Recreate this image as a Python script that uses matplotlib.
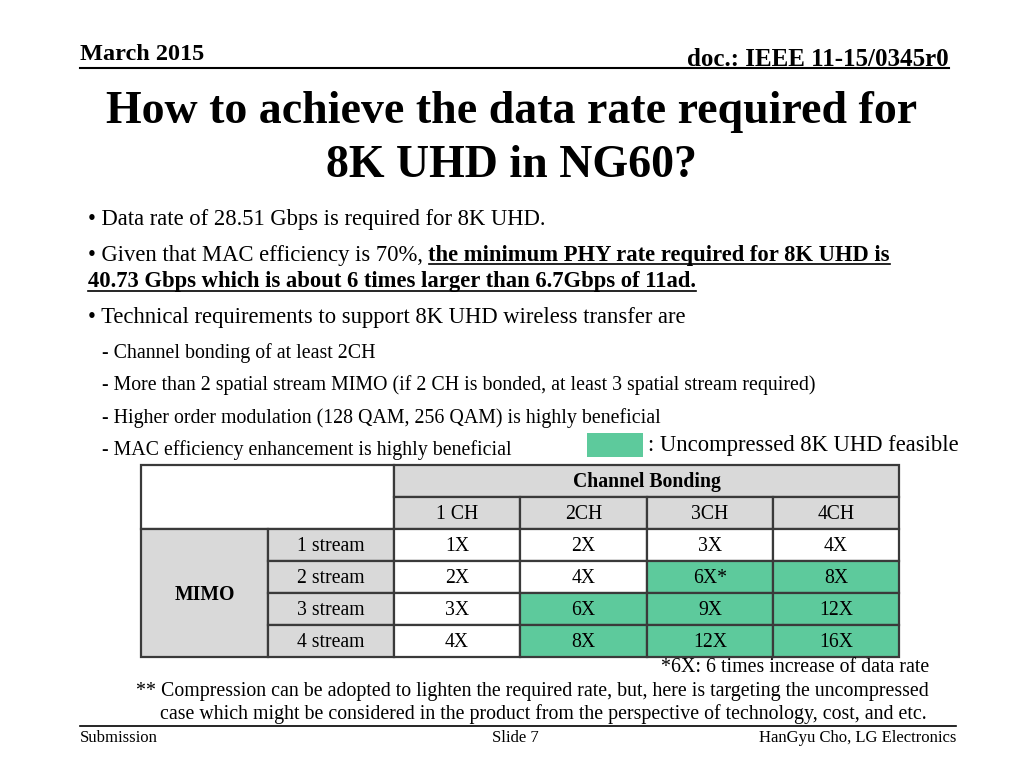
import matplotlib
matplotlib.use('Agg')
import matplotlib.pyplot as plt
from matplotlib.patches import Rectangle

# Slide texts
header_left = 'March 2015'
header_right = 'doc.: IEEE 11-15/0345r0'
title_lines = ['How to achieve the data rate required for', '8K UHD in NG60?']
bullet1 = '• Data rate of 28.51 Gbps is required for 8K UHD.'
bullet2_plain = '• Given that MAC efficiency is 70%, '
bullet2_bold = 'the minimum PHY rate required for 8K UHD is'
bullet2_bold2 = '40.73 Gbps which is about 6 times larger than 6.7Gbps of 11ad.'
bullet3 = '• Technical requirements to support 8K UHD wireless transfer are'
sub_items = ['- Channel bonding of at least 2CH',
             '- More than 2 spatial stream MIMO (if 2 CH is bonded, at least 3 spatial stream required)',
             '- Higher order modulation (128 QAM, 256 QAM) is highly beneficial',
             '- MAC efficiency enhancement is highly beneficial']
legend_text = ': Uncompressed 8K UHD feasible'

# Table data
channels = ['1 CH', '2CH', '3CH', '4CH']
streams = ['1 stream', '2 stream', '3 stream', '4 stream']
rates = [[1, 2, 3, 4],
         [2, 4, 6, 8],
         [3, 6, 9, 12],
         [4, 8, 12, 16]]
rate_labels = [['1X', '2X', '3X', '4X'],
               ['2X', '4X', '6X*', '8X'],
               ['3X', '6X', '9X', '12X'],
               ['4X', '8X', '12X', '16X']]
feasible_min = 6

notes = ['*6X: 6 times increase of data rate',
         '** Compression can be adopted to lighten the required rate, but, here is targeting the uncompressed',
         'case which might be considered in the product from the perspective of technology, cost, and etc.']
footer = ['Submission', 'Slide 7', 'HanGyu Cho, LG Electronics']

GREEN = '#5dca9c'
GRAY = '#d9d9d9'
EDGE = '#3a3a3a'

plt.rcParams['font.family'] = ['Liberation Serif', 'DejaVu Serif']

fig = plt.figure(figsize=(10.24, 7.68), dpi=100)
ax = fig.add_axes([0, 0, 1, 1])
ax.set_xlim(0, 1024)
ax.set_ylim(768, 0)
ax.axis('off')

# header
ax.text(80, 54, header_left, fontsize=17.5, fontweight='bold', va='center')
ax.text(949, 59, header_right, fontsize=18, fontweight='bold', va='center', ha='right')
ax.plot([80, 949], [68, 68], color='black', lw=1.5)

# title
ax.text(512, 112, title_lines[0], fontsize=33, fontweight='bold', ha='center', va='center')
ax.text(512, 166, title_lines[1], fontsize=33, fontweight='bold', ha='center', va='center')

fig.canvas.draw()
r = fig.canvas.get_renderer()
inv = ax.transData.inverted()


def underline(t):
    bb = t.get_window_extent(r)
    (x0, y0), (x1, _) = inv.transform([[bb.x0, bb.y0], [bb.x1, bb.y1]])
    ax.plot([x0, x1], [y0 - 2, y0 - 2], color='black', lw=1.2)


bsize = 16.3
ax.text(88, 219, bullet1, fontsize=bsize, va='center')
t = ax.text(88, 255, bullet2_plain, fontsize=bsize, va='center')
bb = t.get_window_extent(r)
xend = inv.transform([[bb.x1, bb.y0]])[0][0]
tb = ax.text(xend, 255, bullet2_bold, fontsize=bsize, va='center', fontweight='bold')
underline(tb)
tb2 = ax.text(88, 282, bullet2_bold2, fontsize=bsize, va='center', fontweight='bold')
underline(tb2)
ax.text(88, 318, bullet3, fontsize=bsize, va='center')
for i, s in enumerate(sub_items):
    ax.text(102, 353 + i * 32.3, s, fontsize=14.3, va='center')

# legend patch
ax.add_patch(Rectangle((587, 433), 56, 24, facecolor=GREEN, edgecolor='none'))
ax.text(648, 445, legend_text, fontsize=16.3, va='center')

# table
col_x = [141, 268, 394, 520, 647, 773, 899]
row_y = [465, 497, 529, 561, 593, 625, 657]
tsize = 14.2


def cell(x0, x1, y0, y1, fc, text='', bold=False):
    ax.add_patch(Rectangle((x0, y0), x1 - x0, y1 - y0, facecolor=fc, edgecolor=EDGE, lw=1.6))
    if text:
        ax.text((x0 + x1) / 2, (y0 + y1) / 2 + 1.5, text, fontsize=tsize, ha='center', va='center',
                fontweight='bold' if bold else 'normal')


cell(col_x[0], col_x[2], row_y[0], row_y[2], 'white')
cell(col_x[2], col_x[6], row_y[0], row_y[1], GRAY, 'Channel Bonding', bold=True)
for j, c in enumerate(channels):
    cell(col_x[2 + j], col_x[3 + j], row_y[1], row_y[2], GRAY, c)
cell(col_x[0], col_x[1], row_y[2], row_y[6], GRAY, 'MIMO', bold=True)
for i, s in enumerate(streams):
    cell(col_x[1], col_x[2], row_y[2 + i], row_y[3 + i], GRAY, s)
    for j in range(len(channels)):
        fc = GREEN if rates[i][j] >= feasible_min else 'white'
        cell(col_x[2 + j], col_x[3 + j], row_y[2 + i], row_y[3 + i], fc, rate_labels[i][j])

# notes
ax.text(929, 668, notes[0], fontsize=14.3, ha='right', va='center')
ax.text(136, 691.5, notes[1], fontsize=14.3, va='center')
ax.text(160, 714.5, notes[2], fontsize=14.3, va='center')

# footer
ax.plot([80, 956], [726, 726], color='black', lw=1.2)
ax.text(80, 738, footer[0], fontsize=12, va='center')
ax.text(515, 738, footer[1], fontsize=12, va='center', ha='center')
ax.text(956, 738, footer[2], fontsize=12, va='center', ha='right')

fig.savefig('out.png', dpi=100)
